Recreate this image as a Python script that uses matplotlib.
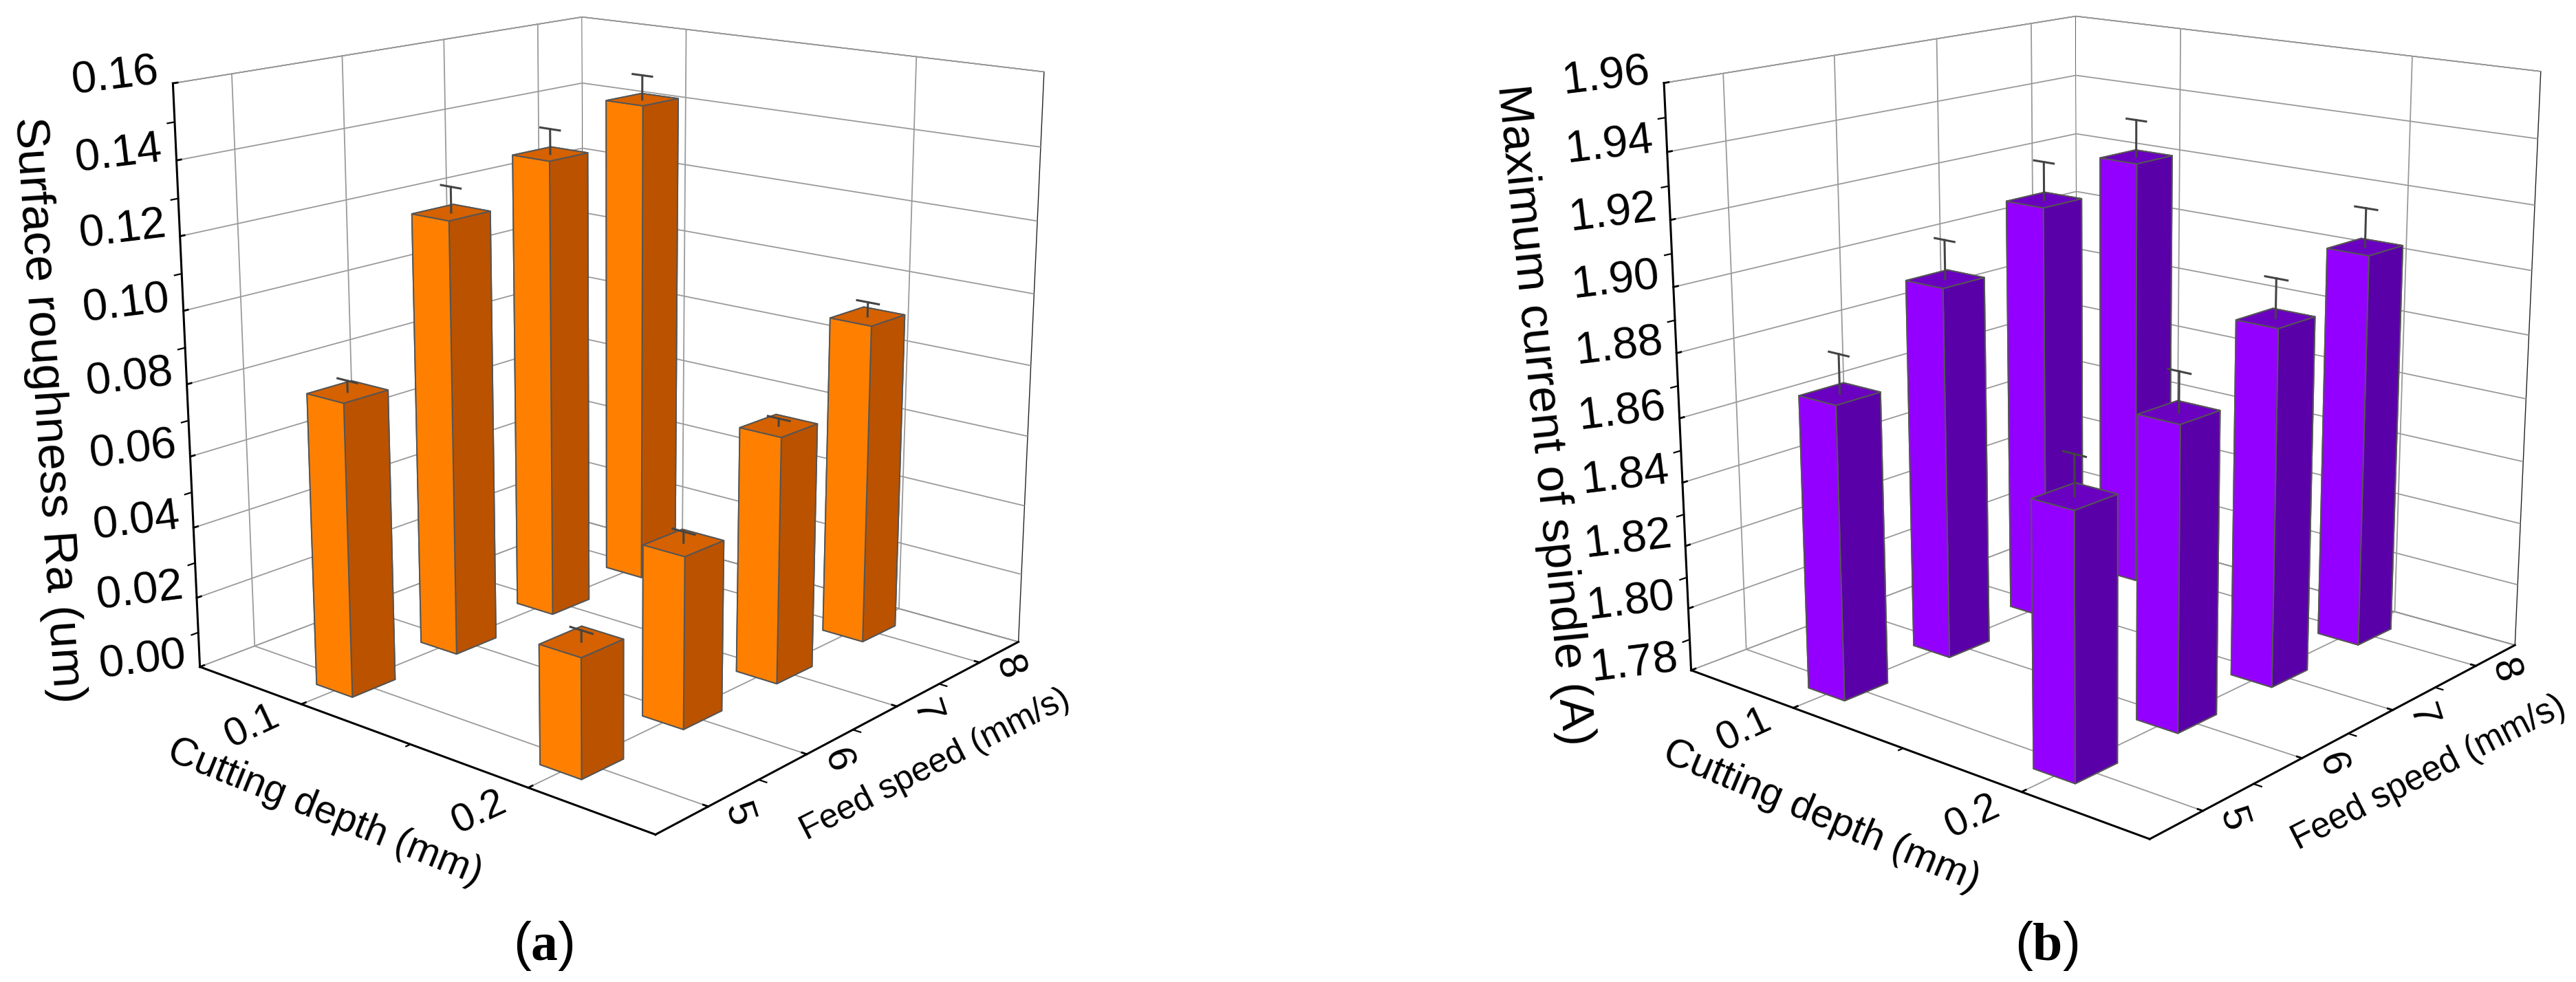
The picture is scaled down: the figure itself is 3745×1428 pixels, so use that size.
import numpy as np, matplotlib
matplotlib.use('Agg')
import matplotlib.pyplot as plt

plt.rcParams['font.family'] = ['Liberation Sans', 'DejaVu Sans']
plt.rcParams['mathtext.fontset'] = 'custom'
plt.rcParams['mathtext.rm'] = 'Liberation Serif'
plt.rcParams['mathtext.bf'] = 'Liberation Serif:bold'

W, H = 3745, 1428
EL, AZ, FL, BA, BB = 15.737, -49.782, 0.479, 1.002, 0.998

depths = [0.1, 0.2]
feeds = [5, 6, 7, 8]
ra_d1 = [0.081, 0.122, 0.132, 0.142]
ra_d2 = [0.032, 0.047, 0.069, 0.091]
ra_err_d1 = [0.003, 0.007, 0.007, 0.007]
ra_err_d2 = [0.003, 0.003, 0.002, 0.004]
cur_d1 = [1.871, 1.897, 1.914, 1.921]
cur_d2 = [1.859, 1.8725, 1.891, 1.9045]
cur_err_d1 = [0.012, 0.012, 0.012, 0.012]
cur_err_d2 = [0.012, 0.012, 0.012, 0.012]
ra_ticks = [0.00, 0.02, 0.04, 0.06, 0.08, 0.10, 0.12, 0.14, 0.16]
cur_ticks = [1.78, 1.80, 1.82, 1.84, 1.86, 1.88, 1.90, 1.92, 1.94, 1.96]
dep_minor = [0.15]
feed_minor = [5.5, 6.5, 7.5]


def T(x, y):
    return x / W, 1 - y / H


def panel(rect, d1, d2, e1, e2, zticks, face, dark, top, caption, capx, lab):
    ax = fig.add_axes([rect[0]/W, rect[1]/H, rect[2]/W, rect[2]/H], projection='3d')
    ax.computed_zorder = False
    ax.view_init(elev=EL, azim=AZ)
    ax.set_proj_type('persp', focal_length=FL)
    ax.set_box_aspect((BA, BB, 1.0))
    ax.patch.set_alpha(0)
    xl, yl, zl = (0.05, 0.25), (4.5, 8.5), (zticks[0], zticks[-1])
    ax.set_xlim(*xl); ax.set_ylim(*yl); ax.set_zlim(*zl)
    ax.set_xticks(depths); ax.set_yticks(feeds); ax.set_zticks(zticks)
    ax.set_xticklabels([f'{d:.1f}' for d in depths])
    ax.set_yticklabels([str(f) for f in feeds])
    ax.set_zticklabels([f'{z:.2f}' for z in zticks])
    ax.tick_params(axis='z', labelsize=47, labelrotation=7, pad=0)
    ax.tick_params(axis='x', labelsize=42, labelrotation=25, pad=12)
    ax.tick_params(axis='y', labelsize=42, labelrotation=-72, pad=9)
    for group in (ax.get_xticklabels(), ax.get_yticklabels()):
        for l in group:
            l.set_rotation_mode('anchor'); l.set_ha('right'); l.set_va('bottom')
    for l in ax.get_zticklabels():
        l.set_rotation_mode('anchor'); l.set_ha('right'); l.set_va('baseline')
    ax.zaxis.set_ticks_position('lower')
    for a in (ax.xaxis, ax.yaxis, ax.zaxis):
        a.set_pane_color((1, 1, 1, 1))
        a.pane.set_edgecolor('#222222')
        a.pane.set_linewidth(1.0)
        a.line.set_color('black'); a.line.set_linewidth(2.2)
        a._axinfo['grid'].update(color='#9a9a9a', linewidth=1.3, linestyle='-')
        a._axinfo['tick'].update(inward_factor=0.0, outward_factor=0.12)
        a._axinfo['tick']['linewidth'] = {True: 2.0, False: 1.2}
        a._axinfo['tick']['color'] = 'black'
    for d in dep_minor:
        ax.plot([d, d], [yl[0], yl[0] - 0.04], [zl[0], zl[0]], color='k', lw=1.6, zorder=1)
    for f in feed_minor:
        ax.plot([xl[1], xl[1] + 0.003], [f, f], [zl[0], zl[0]], color='k', lw=1.6, zorder=1)
    for a_, b_ in zip(zticks[:-1], zticks[1:]):
        m = (a_ + b_) / 2
        ax.plot([xl[0], xl[0]], [yl[0], yl[0] - 0.06], [m, m], color='k', lw=1.6, zorder=1)

    dx = 0.017; dy = 0.40
    order = [(0, f) for f in range(3, -1, -1)] + [(1, f) for f in range(3, -1, -1)]
    base = zl[0]
    for n, (i, j) in enumerate(order):
        h = (d1 if i == 0 else d2)[j]
        e = (e1 if i == 0 else e2)[j]
        x, y = depths[i], feeds[j]
        cols = [dark, top, face, face, face, dark]
        ax.bar3d(x - dx/2, y - dy/2, base, dx, dy, h - base, color=cols,
                 shade=False, edgecolor='#555555', linewidth=1.4, zorder=10 + 2*n)
        ax.plot([x, x], [y, y], [h, h + e], color='#444444', lw=2.2, zorder=11 + 2*n)
        cap = 0.0045
        ax.plot([x - cap, x + cap], [y, y], [h + e, h + e], color='#444444', lw=2.2, zorder=11 + 2*n)
    for s, xy, rot, fs in lab:
        fig.text(*T(*xy), s, rotation=rot, fontsize=fs, ha='center', va='center')
    fig.text(*T(capx, 1376), caption, fontsize=56, ha='center', va='center')


fig = plt.figure(figsize=(W/100, H/100), dpi=100)
panel((141.4, 131.4, 1463.5), ra_d1, ra_d2, ra_err_d1, ra_err_d2, ra_ticks,
      '#FF8000', '#BA5200', '#D56100', r'($\mathbf{a}$)', 790,
      [('Surface roughness Ra (um)', (69, 596), -86.2, 50),
       ('Cutting depth (mm)', (472, 1181), -22, 41),
       ('Feed speed (mm/s)', (1360, 1112), 27, 36)])
panel((2308.4, 124.3, 1473.0), cur_d1, cur_d2, cur_err_d1, cur_err_d2, cur_ticks,
      '#9400FF', '#5A00A8', '#6A00C0', r'($\mathbf{b}$)', 2975,
      [('Maximum current of spindle (A)', (2244, 603), -84.3, 50),
       ('Cutting depth (mm)', (2648, 1187), -22.7, 41.5),
       ('Feed speed (mm/s)', (3531, 1124), 27, 36.5)])
fig.savefig('out.png', dpi=100)
